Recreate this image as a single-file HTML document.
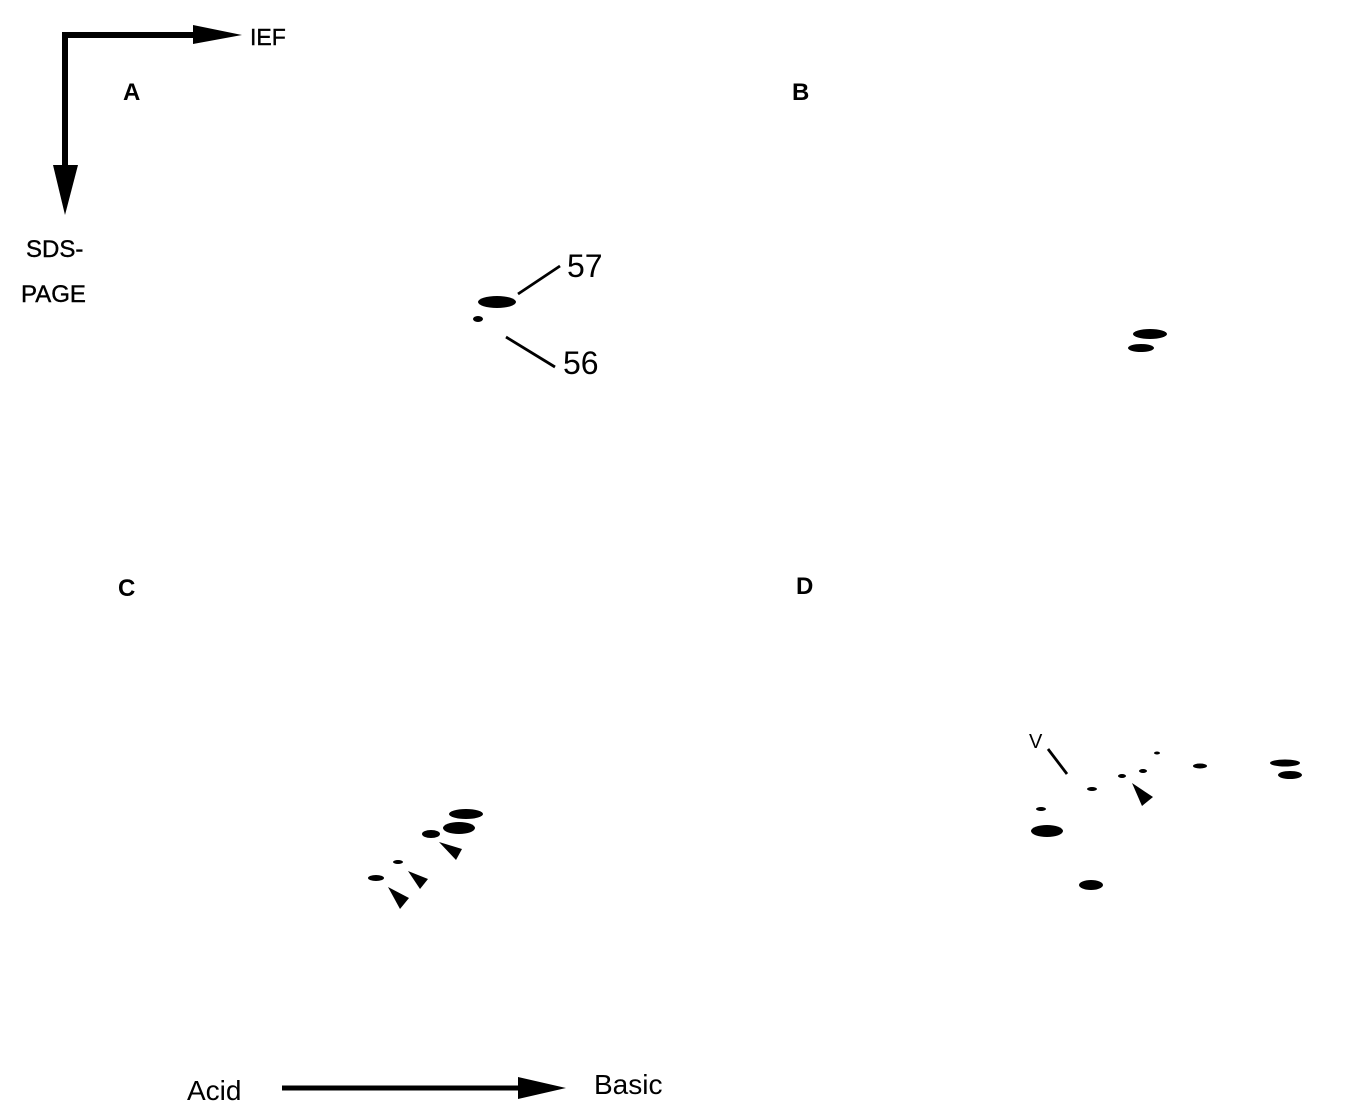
<!DOCTYPE html>
<html><head><meta charset="utf-8"><style>
html,body{margin:0;padding:0;background:#fff;}
svg{display:block;}
text{font-family:"Liberation Sans",Arial,sans-serif;fill:#000;}
</style></head><body>
<svg width="1348" height="1112" viewBox="0 0 1348 1112" xmlns="http://www.w3.org/2000/svg">
<path d="M65 166 L65 35 L195 35" fill="none" stroke="#000" stroke-width="6"/>
<polygon points="193,25 242,35 193,44" fill="#000"/>
<polygon points="53,165 78,165 65,215" fill="#000"/>
<text x="250" y="45" font-size="23" stroke="#000" stroke-width="0.4">IEF</text>
<text x="26" y="257" font-size="24" stroke="#000" stroke-width="0.4">SDS-</text>
<text x="21" y="302" font-size="24" stroke="#000" stroke-width="0.4">PAGE</text>
<text x="123" y="100" font-size="24" font-weight="bold">A</text>
<text x="792" y="100" font-size="24" font-weight="bold">B</text>
<text x="118" y="596" font-size="24" font-weight="bold">C</text>
<text x="796" y="594" font-size="24" font-weight="bold">D</text>
<ellipse cx="497" cy="302" rx="19" ry="6" fill="#000"/>
<ellipse cx="478" cy="319" rx="5" ry="3" fill="#000"/>
<line x1="518" y1="294" x2="560" y2="266" stroke="#000" stroke-width="2.8"/>
<line x1="506" y1="337" x2="555" y2="367" stroke="#000" stroke-width="2.8"/>
<text x="567" y="277" font-size="32">57</text>
<text x="563" y="374" font-size="32">56</text>
<ellipse cx="1150" cy="334" rx="17" ry="5" fill="#000"/>
<ellipse cx="1141" cy="348" rx="13" ry="4" fill="#000"/>
<ellipse cx="466" cy="814" rx="17" ry="5" fill="#000"/>
<ellipse cx="459" cy="828" rx="16" ry="6" fill="#000"/>
<ellipse cx="431" cy="834" rx="9" ry="4" fill="#000"/>
<polygon points="439,842 462,849 456,860" fill="#000"/>
<ellipse cx="398" cy="862" rx="5" ry="2" fill="#000"/>
<ellipse cx="376" cy="878" rx="8" ry="3" fill="#000"/>
<polygon points="408,871 428,879 420,889" fill="#000"/>
<polygon points="388,887 409,898 400,909" fill="#000"/>
<text x="1029" y="748" font-size="20">V</text>
<line x1="1048" y1="749" x2="1067" y2="774" stroke="#000" stroke-width="2.8"/>
<ellipse cx="1092" cy="789" rx="5" ry="2" fill="#000"/>
<ellipse cx="1041" cy="809" rx="5" ry="2" fill="#000"/>
<ellipse cx="1047" cy="831" rx="16" ry="6" fill="#000"/>
<ellipse cx="1091" cy="885" rx="12" ry="5" fill="#000"/>
<ellipse cx="1122" cy="776" rx="4" ry="2" fill="#000"/>
<ellipse cx="1143" cy="771" rx="4" ry="2" fill="#000"/>
<ellipse cx="1157" cy="753" rx="3" ry="1.5" fill="#000"/>
<polygon points="1132,783 1153,797 1142,806" fill="#000"/>
<ellipse cx="1200" cy="766" rx="7" ry="2.5" fill="#000"/>
<ellipse cx="1285" cy="763" rx="15" ry="3.5" fill="#000"/>
<ellipse cx="1290" cy="775" rx="12" ry="4" fill="#000"/>
<text x="187" y="1100" font-size="28">Acid</text>
<line x1="282" y1="1088" x2="522" y2="1088" stroke="#000" stroke-width="5"/>
<polygon points="518,1077 566,1088 518,1099" fill="#000"/>
<text x="594" y="1094" font-size="28">Basic</text>
</svg>
</body></html>
